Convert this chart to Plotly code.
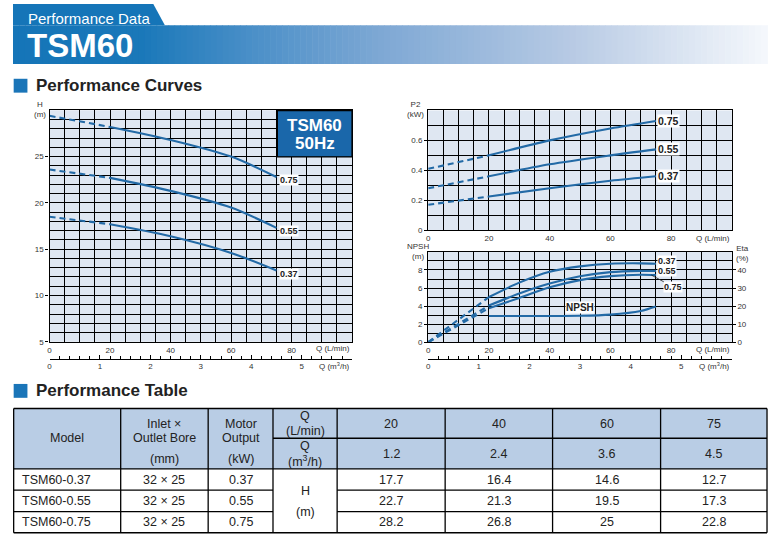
import plotly.graph_objects as go

W, H = 774, 545

# head curves H(m) against Q(L/min), values from the performance table
q_duty = [20, 40, 60, 75]
h_037 = [17.7, 16.4, 14.6, 12.7]
h_055 = [22.7, 21.3, 19.5, 17.3]
h_075 = [28.2, 26.8, 25, 22.8]
h_shut = [18.5, 23.6, 29.4]          # head at Q = 0 (dashed part)

# shaft power P2 (kW)
q_p2 = [0, 20, 40, 60, 75]
p2_037 = [0.17, 0.225, 0.28, 0.33, 0.36]
p2_055 = [0.28, 0.36, 0.44, 0.50, 0.54]
p2_075 = [0.41, 0.50, 0.60, 0.68, 0.73]

# efficiency (%) and NPSH (m)
q_eta = [20, 30, 40, 50, 60, 70, 75]
eta_037 = [25.0, 33.0, 39.0, 42.0, 43.5, 43.7, 43.5]
eta_055 = [20.3, 27.0, 32.5, 36.5, 38.8, 39.5, 39.5]
eta_075 = [18.8, 24.5, 30.4, 34.4, 36.6, 37.4, 37.2]
eta_shut = [0, 0, 0]

q_npsh = [20, 30, 40, 50, 60, 70, 75]
npsh = [2.9, 2.9, 2.9, 2.92, 3.05, 3.45, 3.95]

# table
models = ["TSM60-0.37", "TSM60-0.55", "TSM60-0.75"]
bores = ["32 × 25", "32 × 25", "32 × 25"]
outputs = ["0.37", "0.55", "0.75"]
q_lmin = ["20", "40", "60", "75"]
q_m3h = ["1.2", "2.4", "3.6", "4.5"]
heads = [h_037, h_055, h_075]

BLUE = "#236aa6"
FONT = "Liberation Sans, Arial, sans-serif"


#pixel -> paper
def px(x):
    return x / W


def py(y):
    return 1 - y / H


fig = go.Figure()


def curve(x, y, xa, ya, dash=None):
    fig.add_trace(go.Scatter(x=x, y=y, xaxis=xa, yaxis=ya, mode="lines",
                             line=dict(color=BLUE, width=2.1, shape="spline", smoothing=0.8,
                                       dash=dash or "solid"),
                             hoverinfo="skip", showlegend=False))


DASH = "6px,4px"

#head curves
for h0, h in zip(h_shut, heads):
    curve([0, q_duty[0]], [h0, h[0]], "x", "y", DASH)
    curve(q_duty, h, "x", "y")

#P2 curves
for p in (p2_037, p2_055, p2_075):
    curve(q_p2[:2], p[:2], "x3", "y3", DASH)
    curve(q_p2[1:], p[1:], "x3", "y3")

#efficiency curves (right axis) and NPSH
for e0, e in zip(eta_shut, (eta_037, eta_055, eta_075)):
    curve([0, q_eta[0]], [e0, e[0]], "x4", "y5", DASH)
    curve(q_eta, e, "x4", "y5")
curve(q_npsh, npsh, "x4", "y4")

#empty traces so the m3/h scales get drawn
for xa, ya in (("x2", "y"), ("x5", "y4")):
    fig.add_trace(go.Scatter(x=[], y=[], xaxis=xa, yaxis=ya, mode="lines",
                             hoverinfo="skip", showlegend=False))

GRID = dict(showgrid=True, gridcolor="black", gridwidth=1.4)


def xax(x0, x1, anchor, rng=(0, 100), vals=(0, 20, 40, 60, 80), minor=5):
    return dict(domain=[px(x0), px(x1)], range=list(rng), anchor=anchor,
                tickvals=list(vals), ticks="", showline=True, mirror=True,
                linecolor="black", linewidth=1.4, zeroline=False,
                tickfont=dict(size=8, color="#333"),
                minor=dict(dtick=minor, ticks="", **GRID), **GRID)


def yax(y0, y1, anchor, rng, vals, minor):
    return dict(domain=[py(y1), py(y0)], range=list(rng), anchor=anchor,
                tickvals=list(vals), ticks="outside", ticklen=3, tickcolor="black",
                showline=True, mirror=True, linecolor="black", linewidth=1.4,
                zeroline=False, tickfont=dict(size=8, color="#333"),
                minor=dict(dtick=minor, ticks="", **GRID), **GRID)


def m3h_axis(base):
    return dict(overlaying=base, range=[0, 6], anchor="free", position=py(362),
                side="bottom",
                tickvals=[0, 1, 2, 3, 4, 5], ticks="inside", ticklen=4, tickcolor="black",
                showline=True, linecolor="black", linewidth=1, showgrid=False,
                zeroline=False, tickfont=dict(size=8, color="#333"),
                minor=dict(dtick=0.2, ticks="inside", ticklen=3, tickcolor="black"))


LX0, LX1 = 47.7, 351
RX0, RX1 = 427.3, 731.7

fig.update_layout(
    width=W, height=H, margin=dict(l=0, r=0, t=0, b=0), autosize=False,
    paper_bgcolor="white", plot_bgcolor="#dfe7f2",
    font=dict(family=FONT, color="#222"),
    xaxis=xax(LX0, LX1, "y"),
    yaxis=yax(111.3, 345, "x", (5, 30), (5, 10, 15, 20, 25), 1),
    xaxis2=m3h_axis("x"),
    xaxis3=xax(RX0, RX1, "y3"),
    yaxis3=yax(111.5, 232.3, "x3", (0, 0.8), (0, 0.2, 0.4, 0.6), 0.1),
    xaxis4=xax(RX0, RX1, "y4"),
    yaxis4=yax(254.3, 345.3, "x4", (0, 10), (0, 2, 4, 6, 8), 1),
    yaxis5=dict(overlaying="y4", side="right", anchor="x4", range=[0, 50],
                tickvals=[0, 10, 20, 30, 40], ticks="outside", ticklen=3,
                tickcolor="black", showgrid=False, zeroline=False,
                tickfont=dict(size=8, color="#333")),
    xaxis5=m3h_axis("x4"),
)

shapes = []
ann = []


def text(x, y, s, size=8, color="#222", bold=False, xanchor="center", **kw):
    if bold:
        s = "<b>" + s + "</b>"
    ann.append(dict(x=px(x), y=py(y), xref="paper", yref="paper", text=s, showarrow=False,
                    xanchor=xanchor, yanchor="middle",
                    font=dict(size=size, color=color, family=FONT), **kw))


#header band with gradient
stops = [(11, (0x15, 0x75, 0xb8)), (140, (0x1a, 0x78, 0xb9)), (250, (0x4a, 0x8f, 0xc8)),
         (380, (0x7e, 0xa8, 0xd4)), (570, (0xb7, 0xca, 0xe4)), (768, (0xf5, 0xf8, 0xfc))]


def grad(x):
    for (a, ca), (b, cb) in zip(stops, stops[1:]):
        if x <= b:
            t = (x - a) / (b - a)
            return "rgb(%d,%d,%d)" % tuple(round(ca[i] + (cb[i] - ca[i]) * t) for i in range(3))
    return "rgb(245,248,252)"


shapes.append(dict(type="path", xref="paper", yref="paper", layer="below",
                   path="M %f,%f L %f,%f L %f,%f L %f,%f Z" % (
                       px(11), py(4), px(151.7), py(4), px(163.3), py(25.6), px(11), py(25.6)),
                   fillcolor="#1575b8", line=dict(width=0)))
step = 6
x = 11
while x < 768:
    shapes.append(dict(type="rect", xref="paper", yref="paper", layer="below",
                       x0=px(x), x1=px(min(x + step + 0.6, 768)), y0=py(64.6), y1=py(25.5),
                       fillcolor=grad(x + step / 2), line=dict(width=0)))
    x += step
text(24, 19, "Performance Data", size=15, color="white", xanchor="left")
text(23, 45.5, "TSM60", size=33, color="white", bold=True, xanchor="left")

#section titles
for yc, title in ((86.5, "Performance Curves"), (394.5, "Performance Table")):
    shapes.append(dict(type="rect", xref="paper", yref="paper", x0=px(11.7), x1=px(25.5),
                       y0=py(yc + 7), y1=py(yc - 7), fillcolor="#1a75b8", line=dict(width=0)))
    text(32, yc, title, size=17, bold=True, xanchor="left")

#model box
shapes.append(dict(type="rect", xref="paper", yref="paper", x0=px(276), x1=px(351),
                   y0=py(158.3), y1=py(111.5), fillcolor="#1a67aa",
                   line=dict(color="black", width=1.4), layer="above"))
text(313.5, 126.5, "TSM60", size=17, color="white", bold=True)
text(313.5, 145, "50Hz", size=17, color="white", bold=True)

#axis labels
text(38.5, 111, "H<br>(m)", size=8, color="#333")
text(415, 111, "P2<br>(kW)", size=8, color="#333")
text(417, 253.5, "NPSH<br>(m)", size=8, color="#333")
text(742, 256, "Eta<br>(%)", size=8, color="#333")
for xr, y1, y2 in ((LX1, 352, 369.5), (RX1, 352.5, 369.5)):
    text(xr, y1, "Q (L/min)", size=8, color="#333", xanchor="right")
    text(xr, y2, "Q (m<sup>3</sup>/h)", size=8, color="#333", xanchor="right")
text(RX1, 240.5, "Q (L/min)", size=8, color="#333", xanchor="right")

#curve labels
for h, lab in zip(heads, outputs):
    ann.append(dict(x=q_duty[-1], y=h[-1], xref="x", yref="y", text="<b>" + lab + "</b>",
                    showarrow=False, xanchor="left", yanchor="middle", xshift=3, yshift=-3,
                    bgcolor="white", borderpad=0,
                    font=dict(size=9, color="#222", family=FONT)))
for p, lab in zip((p2_037, p2_055, p2_075), outputs):
    ann.append(dict(x=q_p2[-1], y=p[-1], xref="x3", yref="y3", text="<b>" + lab + "</b>",
                    showarrow=False, xanchor="left", yanchor="middle", xshift=1,
                    bgcolor="white", borderpad=0,
                    font=dict(size=10.5, color="#222", family=FONT)))
for e, lab, dy in ((eta_037, "0.37", 1.3), (eta_055, "0.55", 0.0)):
    ann.append(dict(x=q_eta[-1], y=e[-1] + dy, xref="x4", yref="y5", text="<b>" + lab + "</b>",
                    showarrow=False, xanchor="left", yanchor="middle", xshift=1,
                    bgcolor="white", borderpad=0,
                    font=dict(size=9, color="#222", family=FONT)))
ann.append(dict(x=q_eta[-1] - 1.5, y=eta_075[-1], xref="x4", yref="y5", text="<b>0.75</b>",
                showarrow=True, arrowhead=0, arrowwidth=0.8, arrowcolor="#222",
                ax=22, ay=12, bgcolor="white", borderpad=0,
                font=dict(size=9, color="#222", family=FONT)))
ann.append(dict(x=50, y=3.8, xref="x4", yref="y4", text="<b>NPSH</b>", showarrow=False,
                bgcolor="white", borderpad=0, font=dict(size=10, color="#222", family=FONT)))

#performance table
cols = [11.7, 119, 206.7, 271.7, 336, 444.3, 552, 660.3, 767]
rows = [412.3, 442.3, 473.3, 494.7, 516.3, 537.7]
LW = 1.3


def hline(y, x0, x1):
    shapes.append(dict(type="line", xref="paper", yref="paper", x0=px(x0), x1=px(x1),
                       y0=py(y), y1=py(y), line=dict(color="black", width=LW)))


def vline(x, y0, y1):
    shapes.append(dict(type="line", xref="paper", yref="paper", x0=px(x), x1=px(x),
                       y0=py(y0), y1=py(y1), line=dict(color="black", width=LW)))


shapes.append(dict(type="rect", xref="paper", yref="paper", x0=px(cols[0]), x1=px(cols[-1]),
                   y0=py(rows[2]), y1=py(rows[0]), fillcolor="#b9cde5", line=dict(width=0),
                   layer="below"))
hline(rows[0], cols[0], cols[-1])
hline(rows[1], cols[3], cols[-1])
hline(rows[2], cols[0], cols[-1])
for r in rows[3:5]:
    hline(r, cols[0], cols[3])
    hline(r, cols[4], cols[-1])
hline(rows[-1], cols[0], cols[-1])
for c in cols:
    vline(c, rows[0], rows[-1])

TS = 12.5
mid = lambda i: (cols[i] + cols[i + 1]) / 2
text(mid(0), 442.5, "Model", size=TS)
text(mid(1), 428, "Inlet ×", size=TS)
text(mid(1), 442.5, "Outlet Bore", size=TS)
text(mid(1), 463, "(mm)", size=TS)
text(mid(2), 428, "Motor", size=TS)
text(mid(2), 442.5, "Output", size=TS)
text(mid(2), 463, "(kW)", size=TS)
text(mid(3), 419.5, "Q", size=TS)
text(mid(3), 435, "(L/min)", size=TS)
text(mid(3), 450, "Q", size=TS)
text(mid(3), 465, "(m<sup>3</sup>/h)", size=TS)
for j in range(4):
    text(mid(4 + j), 427.5, q_lmin[j], size=TS)
    text(mid(4 + j), 458, q_m3h[j], size=TS)
for i in range(3):
    yc = (rows[2 + i] + rows[3 + i]) / 2
    text(cols[0] + 6, yc, models[i], size=TS, xanchor="left")
    text(mid(1), yc, bores[i], size=TS)
    text(mid(2), yc, outputs[i], size=TS)
    for j in range(4):
        text(mid(4 + j), yc, f"{heads[i][j]:g}", size=TS)
text(mid(3), 495.5, "H", size=TS)
text(mid(3), 516.5, "(m)", size=TS)

fig.update_layout(shapes=shapes, annotations=ann)
fig.write_html("out.html", config={"displayModeBar": False},
               post_script="document.body.style.margin='0';document.body.style.overflow='hidden';")
